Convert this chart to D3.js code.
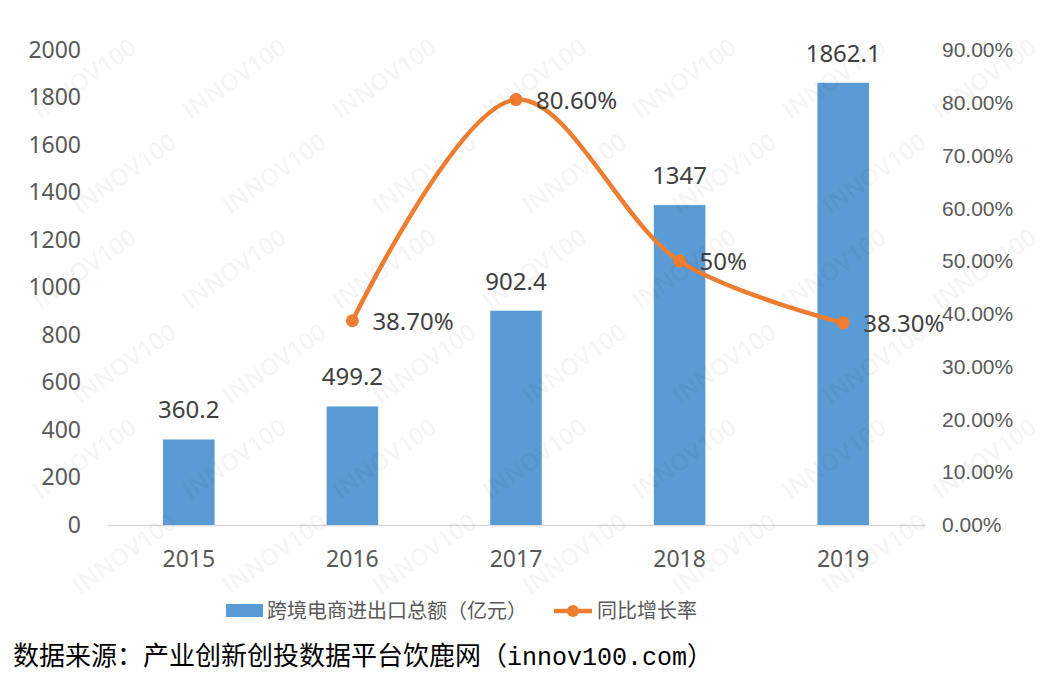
<!DOCTYPE html>
<html><head><meta charset="utf-8">
<script src="https://cdn.jsdelivr.net/npm/d3@7"></script>
<style>body{margin:0;background:#fff}svg{display:block}</style>
</head><body>
<svg id="c" width="1050" height="683"></svg>
<script>
const years = ["2015","2016","2017","2018","2019"];
const amounts = [360.2, 499.2, 902.4, 1347, 1862.1];
const amountLabels = ["360.2","499.2","902.4","1347","1862.1"];
const growthYears = ["2016","2017","2018","2019"];
const growth = [38.7, 80.6, 50, 38.3];
const growthLabels = ["38.70%","80.60%","50%","38.30%"];
const leftTicks = [0,200,400,600,800,1000,1200,1400,1600,1800,2000];
const rightTicks = [0,10,20,30,40,50,60,70,80,90];
const seriesNames = ["跨境电商进出口总额（亿元）","同比增长率"];
const sourceCJK = "数据来源：产业创新创投数据平台饮鹿网（";
const sourceLatin = "innov100.com";
const sourceEnd = "）";

const svg = d3.select("#c");
const L=107,R=925,T=50,B=525;
const blue="#5B9BD5", orange="#ED7D31";
const font="'Noto Sans CJK SC','Noto Sans',sans-serif";
const numFont="'Noto Sans','Open Sans',sans-serif";

const x = d3.scaleBand().domain(years).range([L,R]).paddingInner(0.685).paddingOuter(0.3425);
const y = d3.scaleLinear().domain([0,2000]).range([B,T]);
const y2 = d3.scaleLinear().domain([0,90]).range([B,T]);

// left axis
const la = svg.append("g").attr("transform",`translate(${L},0)`)
  .call(d3.axisLeft(y).tickValues(leftTicks).tickSize(0).tickPadding(26).tickFormat(d3.format("d")));
la.select(".domain").remove();
la.selectAll("text").attr("font-family",numFont).attr("font-size",23).attr("fill","#595959");

// right axis
const ra = svg.append("g").attr("transform",`translate(${R},0)`)
  .call(d3.axisRight(y2).tickValues(rightTicks).tickSize(0).tickPadding(17).tickFormat(d=>d.toFixed(2)+"%"));
ra.select(".domain").remove();
ra.selectAll("text").attr("font-family","'Liberation Sans Narrow','Liberation Sans',sans-serif")
  .attr("font-size",21).attr("fill","#595959").attr("text-anchor","start");

// bottom axis
const ba = svg.append("g").attr("transform",`translate(0,${B})`)
  .call(d3.axisBottom(x).tickSize(0).tickPadding(26));
ba.select(".domain").attr("stroke","#d9d9d9").attr("stroke-width",1.3);
ba.selectAll("text").attr("font-family",numFont).attr("font-size",23).attr("fill","#595959");

// bars
svg.append("g").selectAll("rect").data(years).join("rect")
  .attr("x",d=>x(d)).attr("width",x.bandwidth())
  .attr("y",(d,i)=>y(amounts[i])).attr("height",(d,i)=>B-y(amounts[i]))
  .attr("fill",blue);

svg.append("g").selectAll("text").data(years).join("text")
  .attr("x",d=>x(d)+x.bandwidth()/2).attr("y",(d,i)=>y(amounts[i])-21)
  .attr("text-anchor","middle").attr("font-family",numFont).attr("font-size",24).attr("fill","#404040")
  .text((d,i)=>amountLabels[i]);

// line
const cx = d=>x(d)+x.bandwidth()/2;
const line = d3.line().x((d,i)=>cx(growthYears[i])).y(d=>y2(d)).curve(d3.curveCatmullRom.alpha(0.5));
svg.append("path").datum(growth).attr("d",line).attr("fill","none").attr("stroke",orange).attr("stroke-width",4.5).attr("stroke-linecap","round");
svg.append("g").selectAll("circle").data(growth).join("circle")
  .attr("cx",(d,i)=>cx(growthYears[i])).attr("cy",d=>y2(d)).attr("r",6.5).attr("fill",orange);
svg.append("g").selectAll("text").data(growth).join("text")
  .attr("x",(d,i)=>cx(growthYears[i])+20).attr("y",d=>y2(d)+9)
  .attr("font-family",numFont).attr("font-size",24).attr("fill","#404040")
  .text((d,i)=>growthLabels[i]);

// legend
const lg = svg.append("g").attr("font-family",font).attr("font-size",20).attr("fill","#595959");
lg.append("rect").attr("x",226).attr("y",604).attr("width",37).attr("height",13).attr("fill",blue);
lg.append("text").attr("x",267).attr("y",618).text(seriesNames[0]);
lg.append("line").attr("x1",554).attr("x2",592).attr("y1",611).attr("y2",611).attr("stroke",orange).attr("stroke-width",4.5);
lg.append("circle").attr("cx",573).attr("cy",611).attr("r",6).attr("fill",orange);
lg.append("text").attr("x",597).attr("y",618).text(seriesNames[1]);

// source
const st = svg.append("text").attr("x",13).attr("y",665).attr("font-family","'Noto Sans CJK SC',sans-serif")
  .attr("font-size",26).attr("fill","#000");
st.append("tspan").text(sourceCJK);
st.append("tspan").attr("font-family","'Liberation Mono',monospace").attr("font-size",25).text(sourceLatin);
st.append("tspan").text(sourceEnd);

// watermark (decorative, faint, on top like the reference)
const wm = svg.append("g").attr("fill","#000").attr("opacity",0.04).attr("pointer-events","none")
  .attr("font-family","'Open Sans',sans-serif").attr("font-size",24).attr("font-weight",600);
for(let r=0;r<7;r++){
  for(let c=0;c<7;c++){
    const px = 40 + c*150 + (r%2)*40;
    const py = 120 + r*95;
    if(px>960||py>670) continue;
    wm.append("text").attr("transform",`translate(${px},${py}) rotate(-35)`).text("INNOV100");
  }
}
</script>
</body></html>
